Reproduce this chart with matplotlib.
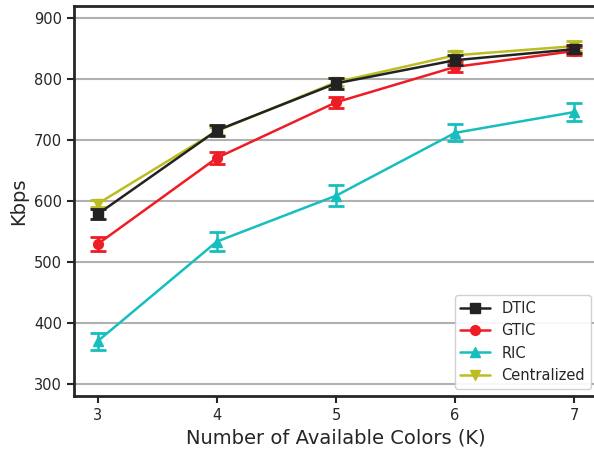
import numpy as np
import matplotlib
matplotlib.use("Agg")
import matplotlib.pyplot as plt
from matplotlib.lines import Line2D
import seaborn as sns

sns.set_style("ticks")
plt.rcParams['font.family'] = ['DejaVu Sans']

colors_k = [3, 4, 5, 6, 7]

dtic = [579, 716, 793, 831, 849]
dtic_err = [8, 9, 9, 8, 7]
gtic = [530, 671, 762, 820, 846]
gtic_err = [11, 10, 9, 8, 6]
ric = [371, 534, 609, 712, 746]
ric_err = [14, 16, 17, 14, 15]
central = [596, 715, 795, 839, 854]
central_err = [6, 7, 7, 7, 8]

series = [
    ("DTIC", dtic, dtic_err, "#222222", "s", 5),
    ("GTIC", gtic, gtic_err, "#ee1c24", "o", 3),
    ("RIC", ric, ric_err, "#17bebe", "^", 3),
    ("Centralized", central, central_err, "#bcbd22", "v", 2),
]

fig, ax = plt.subplots(figsize=(5.94, 4.5), dpi=100)
fig.subplots_adjust(left=74 / 594, right=598 / 594, top=0.987, bottom=0.12)

ax.yaxis.grid(True, color="#b0b0b0", linewidth=1.5)
ax.set_axisbelow(True)

handles = []
for name, vals, err, col, mk, z in series:
    ax.errorbar(colors_k, vals, yerr=err, color=col, marker=mk,
                markersize=7, linewidth=1.8, capsize=6, capthick=2,
                elinewidth=1.8, zorder=z)
    handles.append(Line2D([], [], color=col, marker=mk, markersize=7,
                          linewidth=1.8, label=name))

ax.set_xlim(2.8, 7.2)
ax.set_ylim(281, 920)
ax.set_xticks(colors_k)
ax.set_yticks([300, 400, 500, 600, 700, 800, 900])
ax.tick_params(labelsize=10.5, width=1.5, length=5)
for s in ax.spines.values():
    s.set_linewidth(2)
# right edge of the frame falls outside the image
ax.spines['right'].set_visible(False)

ax.set_xlabel("Number of Available Colors (K)", fontsize=14)
ax.set_ylabel("Kbps", fontsize=14)
ax.legend(handles=handles, loc="lower right", fontsize=10.5, framealpha=0.9)

fig.savefig("out.png")
